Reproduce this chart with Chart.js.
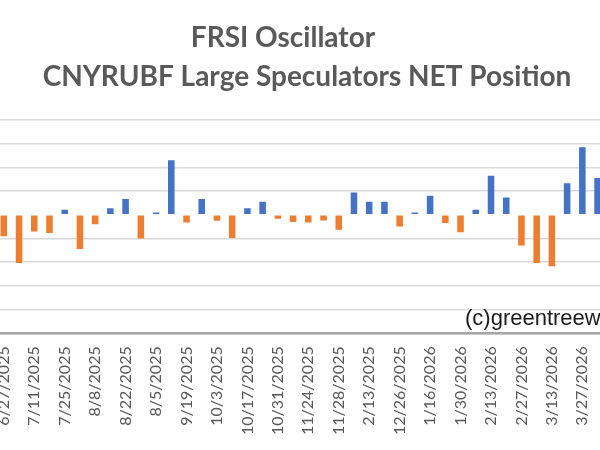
<!DOCTYPE html>
<html><head><meta charset="utf-8">
<script src="https://cdn.jsdelivr.net/npm/chart.js@4.4.1/dist/chart.umd.min.js"></script>
<style>
html,body{margin:0;padding:0;background:#fff;overflow:hidden;width:600px;height:450px;}
#wrap{position:absolute;left:-30px;top:0;width:660px;height:450px;}
</style></head><body>
<div id="wrap"><canvas id="c" width="660" height="450"></canvas></div>
<script>
// Visible tick labels (every other week is labelled on the axis)
const tickLabels = ['6/27/2025','7/11/2025','7/25/2025','8/8/2025','8/22/2025','8/5/2025','9/19/2025','10/3/2025','10/17/2025','10/31/2025',
  '11/24/2025','11/28/2025','2/13/2025','12/26/2025','1/16/2026','1/30/2026','2/13/2026','2/27/2026','3/13/2026','3/27/2026'];
// Weekly FRSI oscillator values
const values = [-9,-20.3,-7,-7.7,2.1,-14.4,-4,2.8,6.7,-10,
  1,23,-3.2,6.7,-2.5,-9.8,2.8,5.5,-1.7,-3,
  -3.2,-2.4,-6.3,9.4,5.5,5.5,-4.9,1,8,-3.5,
  -7.4,2.1,16.5,7.3,-13,-20.3,-21.7,13.3,28.5,15.5];
const titleLines = ['FRSI Oscillator','CNYRUBF Large Speculators NET Position'];
const watermark = '(c)greentreew';

const categories = values.map((v,i)=> i%2===0 ? tickLabels[i/2] : '');
const OFFSET = 30; // canvas is shifted left by this many px

const textPlugin = {
  id:'texts',
  afterDraw(chart){
    const ctx = chart.ctx;
    ctx.save();
    ctx.fillStyle = '#595959';
    ctx.textAlign = 'center';
    ctx.textBaseline = 'alphabetic';
    ctx.font = 'bold 28px Lato';
    ctx.fillText(titleLines[0], 283 + OFFSET, 47);
    ctx.fillText(titleLines[1], 307 + OFFSET, 86);
    ctx.fillStyle = '#1a1a1a';
    ctx.textAlign = 'left';
    ctx.font = '22px "Liberation Sans"';
    ctx.fillText(watermark, 465 + OFFSET, 325);
    ctx.restore();
  }
};

new Chart(document.getElementById('c'), {
  type:'bar',
  data:{
    labels: categories,
    datasets:[{
      data: values,
      backgroundColor: c => (c.raw >= 0 ? '#4472C4' : '#ED7D31'),
      categoryPercentage: 1,
      barPercentage: 0.43
    }]
  },
  options:{
    responsive:false,
    animation:false,
    devicePixelRatio:1,
    layout:{padding:{left:26.2, right:18.6, top:120, bottom:2}},
    plugins:{legend:{display:false}, title:{display:false}, tooltip:{enabled:false}},
    scales:{
      y:{
        min:-50, max:40,
        ticks:{display:false, stepSize:10},
        grid:{drawTicks:false, color: c => (c.tick && c.tick.value === 0 ? 'rgba(0,0,0,0)' : '#d9d9d9'), lineWidth:1.5},
        border:{display:false}
      },
      x:{
        offset:true,
        grid:{display:false, drawTicks:false},
        border:{display:true, color:'#a6a6a6', width:2.5},
        ticks:{autoSkip:false, minRotation:90, maxRotation:90, padding:13, color:'#595959', font:{family:'Lato', size:16}}
      }
    }
  },
  plugins:[textPlugin]
});
</script>
</body></html>
